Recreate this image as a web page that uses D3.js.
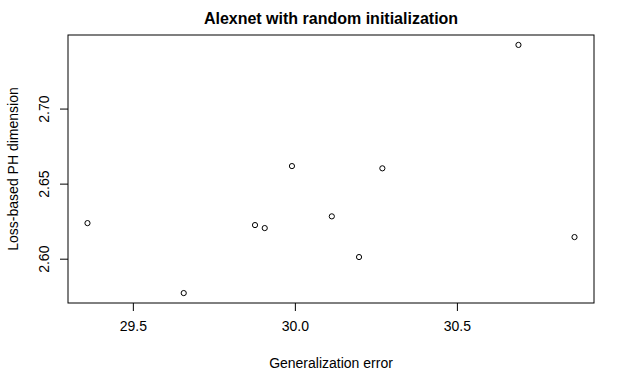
<!DOCTYPE html>
<html>
<head>
<meta charset="utf-8">
<script src="https://cdn.jsdelivr.net/npm/d3@7"></script>
<style>
  body { margin: 0; background: #fff; }
  text { font-family: "Liberation Sans", Arial, sans-serif; }
</style>
</head>
<body>
<script>
// generalization error (x) and loss-based PH dimension (y)
var genError = [29.360, 29.657, 29.877, 29.907, 29.991, 30.114, 30.198, 30.270, 30.690, 30.863];
var phDim = [2.6237, 2.5771, 2.6224, 2.6204, 2.6617, 2.6282, 2.6011, 2.6602, 2.7424, 2.6144];
var xTicks = [29.5, 30.0, 30.5];
var yTicks = [2.60, 2.65, 2.70];

var width = 629, height = 389;
var margin = {top: 35, right: 35, bottom: 86, left: 68};

var svg = d3.select('body')
    .append('svg')
    .attr('width', width)
    .attr('height', height);

// R style: extend data range by 4% on each side
function pad(ext) {
    var r = ext[1] - ext[0];
    return [ext[0] - 0.04 * r, ext[1] + 0.04 * r];
}

var x = d3.scaleLinear()
    .domain(pad(d3.extent(genError)))
    .range([margin.left, width - margin.right]);

var y = d3.scaleLinear()
    .domain(pad(d3.extent(phDim)))
    .range([height - margin.bottom, margin.top]);

var xAxis = svg.append('g')
    .attr('transform', 'translate(0,' + (height - margin.bottom) + ')')
    .call(d3.axisBottom(x).tickValues(xTicks).tickFormat(d3.format('.1f')).tickSize(8).tickPadding(10));

var yAxis = svg.append('g')
    .attr('transform', 'translate(' + margin.left + ',0)')
    .call(d3.axisLeft(y).tickValues(yTicks).tickFormat(d3.format('.2f')).tickSize(8));

[xAxis, yAxis].forEach(function(a) {
    a.select('.domain').remove();
    a.selectAll('line').attr('stroke', '#000');
    a.selectAll('text').attr('font-size', 14).attr('fill', '#000')
        .style('font-family', '"Liberation Sans", Arial, sans-serif');
});

// rotate y tick labels like R (las = 0)
yAxis.selectAll('text')
    .attr('x', null).attr('dy', null)
    .attr('text-anchor', 'middle')
    .attr('transform', 'translate(-19,0) rotate(-90)');

svg.append('rect')
    .attr('x', margin.left)
    .attr('y', margin.top)
    .attr('width', width - margin.left - margin.right)
    .attr('height', height - margin.top - margin.bottom)
    .attr('fill', 'none')
    .attr('stroke', '#000');

svg.selectAll('.pt')
    .data(genError)
    .enter()
    .append('circle')
    .attr('class', 'pt')
    .attr('cx', function(d) { return x(d); })
    .attr('cy', function(d, i) { return y(phDim[i]); })
    .attr('r', 2.6)
    .attr('fill', 'none')
    .attr('stroke', '#000')
    .attr('stroke-width', 1);

svg.append('text')
    .attr('x', (margin.left + width - margin.right) / 2)
    .attr('y', 24)
    .attr('text-anchor', 'middle')
    .attr('font-size', 16)
    .attr('font-weight', 'bold')
    .text('Alexnet with random initialization');

svg.append('text')
    .attr('x', (margin.left + width - margin.right) / 2)
    .attr('y', 368)
    .attr('text-anchor', 'middle')
    .attr('font-size', 14)
    .text('Generalization error');

svg.append('text')
    .attr('transform', 'translate(18,' + ((margin.top + height - margin.bottom) / 2) + ') rotate(-90)')
    .attr('text-anchor', 'middle')
    .attr('font-size', 14)
    .text('Loss-based PH dimension');
</script>
</body>
</html>
